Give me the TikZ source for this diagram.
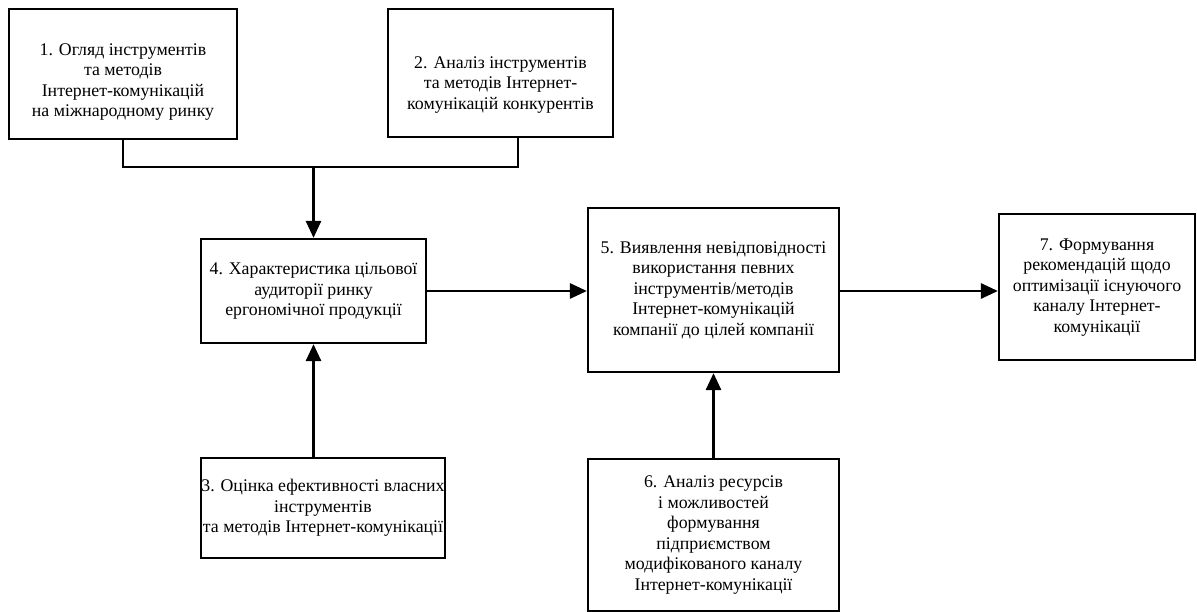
\documentclass[tikz,border=0pt]{standalone}
\usepackage{fontspec}
\setmainfont{Liberation Serif}
\usetikzlibrary{arrows.meta}

\begin{document}
\begin{tikzpicture}[x=1pt, y=-1pt,
    stagebox/.style={draw=black, line width=2.2pt, fill=white, inner sep=0pt, font=\fontsize{17.8}{20.5}\selectfont},
    link/.style={line width=2.8pt},
    flow/.style={line width=2.8pt, -{Triangle[length=17pt,width=15pt]}}]
            \useasboundingbox (0,0) rectangle (1197,612);

            % Stage boxes
            \node[stagebox, minimum width=228pt, minimum height=130pt] (stage1) at (123,74) {\begin{tabular}{@{}c@{}}\rule{0pt}{30pt}1. Огляд інструментів\\та методів\\Інтернет-комунікацій\\на міжнародному ринку\end{tabular}};

            \node[stagebox, minimum width=225pt, minimum height=128pt] (stage2) at (500.5,73) {\begin{tabular}{@{}c@{}}\rule{0pt}{38pt}2. Аналіз інструментів\\та методів Інтернет-\\комунікацій конкурентів\end{tabular}};

            \node[stagebox, minimum width=244pt, minimum height=100pt] (stage3) at (323,508) {\begin{tabular}{@{}c@{}}3. Оцінка ефективності власних\\інструментів\\та методів Інтернет-комунікації\end{tabular}};

            \node[stagebox, minimum width=225pt, minimum height=104pt] (stage4) at (313.5,291) {\begin{tabular}{@{}c@{}}4. Характеристика цільової\\аудиторії ринку\\ергономічної продукції\end{tabular}};

            \node[stagebox, minimum width=251pt, minimum height=164pt] (stage5) at (713.5,290) {\begin{tabular}{@{}c@{}}5. Виявлення невідповідності\\використання певних\\інструментів/методів\\Інтернет-комунікацій\\компанії до цілей компанії\end{tabular}};

            \node[stagebox, minimum width=251pt, minimum height=152pt] (stage6) at (713.5,535) {\begin{tabular}{@{}c@{}}6. Аналіз ресурсів\\і можливостей\\формування\\підприємством\\модифікованого каналу\\Інтернет-комунікації\end{tabular}};

            \node[stagebox, minimum width=196pt, minimum height=146pt] (stage7) at (1097,287) {\begin{tabular}{@{}c@{}}7. Формування\\рекомендацій щодо\\оптимізації існуючого\\каналу Інтернет-\\комунікації\end{tabular}};

            % Joint of the two upper boxes
            \coordinate (joint) at (stage4.north |- 0,167);
            \draw[link] (stage1.south) |- (joint) -| ([xshift=17.5pt]stage2.south);

            % Arrows
            \draw[flow] (joint) -- (stage4.north);
            \draw[flow] (stage3.north -| stage4.south) -- (stage4.south);
            \draw[flow] (stage4.east) -- (stage4.east -| stage5.west);
            \draw[flow] (stage6.north) -- (stage5.south);
            \draw[flow] (stage5.east |- stage4.east) -- (stage4.east -| stage7.west);
        \end{tikzpicture}
\end{document}
